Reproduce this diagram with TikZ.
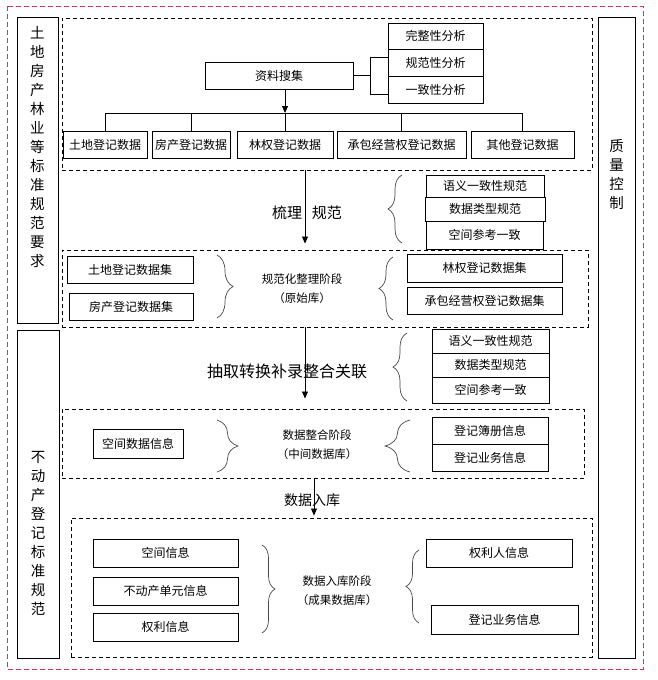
\documentclass[tikz,border=0pt]{standalone}
\usepackage{fontspec}
\setmainfont{Noto Sans CJK SC}
\usetikzlibrary{arrows.meta,decorations.pathreplacing}
\definecolor{rim}{HTML}{E03052}
\definecolor{braceg}{HTML}{484848}

\begin{document}
\begin{tikzpicture}[x=1pt,y=-1pt,
  box/.style={draw,line width=0.8pt,inner sep=0pt,font=\fontsize{12}{14}\selectfont},
  grp/.style={draw,line width=0.9pt,dash pattern=on 4pt off 3pt,inner sep=0pt},
  col/.style={draw,line width=0.8pt,inner sep=0pt},
  vtxt/.style={align=center,font=\fontsize{14.5}{19}\selectfont},
  stage/.style={align=center,font=\fontsize{11.5}{19}\selectfont},
  brc/.style={decorate,decoration={brace,amplitude=#1},line width=0.7pt,draw=braceg},
  tip/.style={-{Triangle[length=7pt,width=6pt]},line width=0.8pt}]
\useasboundingbox (0,0) rectangle (657,680);
\draw[rim,line width=0.9pt,dash pattern=on 5pt off 3pt] (7,6) rectangle (643,669);

% side columns
\node[col,minimum width=41pt,minimum height=306pt] (lc1) at (37.5,170) {};
\node[vtxt] (lt1) at (37.5,147) {土\\地\\房\\产\\林\\业\\等\\标\\准\\规\\范\\要\\求};
\node[col,minimum width=42pt,minimum height=328pt] (lc2) at (38,494) {};
\node[vtxt] (lt2) at (38,533) {不\\动\\产\\登\\记\\标\\准\\规\\范};
\node[col,minimum width=37pt,minimum height=641pt] (qc) at (616.5,337.5) {};
\node[vtxt] (qt) at (616.5,175) {质\\量\\控\\制};

% stages
\node[grp,minimum width=530pt,minimum height=152pt] (g1) at (327,94) {};
\node[grp,minimum width=526pt,minimum height=77pt] (g2) at (325,288.5) {};
\node[grp,minimum width=522pt,minimum height=69pt] (g3) at (323,443.5) {};
\node[grp,minimum width=521pt,minimum height=139pt] (g4) at (331.5,587.5) {};

% collection
\node[box,minimum width=148pt,minimum height=27pt] (zl) at (279,75.5) {资料搜集};
\node[box,minimum width=95pt,minimum height=26.7pt] (a1) at (435.5,36.3) {完整性分析};
\node[box,minimum width=95pt,minimum height=26.7pt] (a2) at (435.5,63) {规范性分析};
\node[box,minimum width=95pt,minimum height=26.7pt] (a3) at (435.5,89.7) {一致性分析};
\draw[line width=0.8pt] (zl.east) -- ++(17,0) coordinate (fk);
\draw[line width=0.8pt] ([yshift=6pt]a2.west) -| (fk) |- ([yshift=-5pt]a3.west);
\node[box,minimum width=84pt,minimum height=27pt] (d1) at (105,144.5) {土地登记数据};
\node[box,minimum width=78pt,minimum height=27pt] (d2) at (191,144.5) {房产登记数据};
\node[box,minimum width=96pt,minimum height=27pt] (d3) at (285,144.5) {林权登记数据};
\node[box,minimum width=129pt,minimum height=27pt] (d4) at (401.5,144.5) {承包经营权登记数据};
\node[box,minimum width=103pt,minimum height=27pt] (d5) at (522.5,144.5) {其他登记数据};
\coordinate (bus) at (0,113);
\draw[tip] (zl.south -| d3) -- (bus -| d3);
\draw[line width=0.8pt] (bus -| d1) -- (bus -| d5);
\foreach \d in {d1,d2,d3,d4,d5} \draw[line width=0.8pt] (bus -| \d) -- (\d.north);

% rules 1
\node[box,minimum width=118pt,minimum height=22pt] (r1) at (485,186) {语义一致性规范};
\node[box,minimum width=120pt,minimum height=24pt] (r2) at (485,209) {数据类型规范};
\node[box,minimum width=117pt,minimum height=28pt] (r3) at (484.5,235) {空间参考一致};
\draw[brc=14pt] (402,243) -- (402,175);

% raw stage
\node[box,minimum width=126pt,minimum height=27pt] (s1) at (130,269.5) {土地登记数据集};
\node[box,minimum width=124pt,minimum height=27pt] (s2) at (131,306.5) {房产登记数据集};
\node[box,minimum width=155pt,minimum height=28pt] (s3) at (484.5,268) {林权登记数据集};
\node[box,minimum width=155pt,minimum height=27pt] (s4) at (484.5,300.5) {承包经营权登记数据集};
\node[stage] (p1) at (302,288.5) {规范化整理阶段\\（原始库）};
\draw[brc=16pt] (217,255) -- (217,318);
\draw[brc=14pt] (393,320) -- (393,257);

% rules 2
\node[box,minimum width=117pt,minimum height=24pt] (t1) at (490.5,341) {语义一致性规范};
\node[box,minimum width=117pt,minimum height=24pt] (t2) at (490.5,365) {数据类型规范};
\node[box,minimum width=117pt,minimum height=26pt] (t3) at (490.5,390) {空间参考一致};
\draw[brc=14pt] (407,401) -- (407,333);

% middle stage
\node[box,minimum width=90pt,minimum height=29pt] (u1) at (138,443.5) {空间数据信息};
\node[box,minimum width=116pt,minimum height=27pt] (u2) at (490,430.5) {登记簿册信息};
\node[box,minimum width=116pt,minimum height=27pt] (u3) at (490,457.5) {登记业务信息};
\node[stage] (p2) at (317,444.5) {数据整合阶段\\（中间数据库）};
\draw[brc=21pt] (217,420) -- (217,472);
\draw[brc=25pt] (410,472) -- (410,420);

% result stage
\node[box,minimum width=145pt,minimum height=28pt] (v1) at (165.5,553) {空间信息};
\node[box,minimum width=145pt,minimum height=28pt] (v2) at (165.5,591) {不动产单元信息};
\node[box,minimum width=145pt,minimum height=28pt] (v3) at (165.5,627) {权利信息};
\node[box,minimum width=146pt,minimum height=28pt] (v4) at (499,553) {权利人信息};
\node[box,minimum width=147pt,minimum height=29pt] (v5) at (504.5,619.5) {登记业务信息};
\node[stage] (p3) at (337,591) {数据入库阶段\\（成果数据库）};
\draw[brc=13pt] (262,545) -- (262,633);
\draw[brc=13pt] (419,623) -- (419,550);

% flow between stages
\node[font=\fontsize{15}{15}\selectfont] (f1) at (307,213) {梳理\hspace{10pt}规范};
\node[font=\fontsize{16}{16}\selectfont] (f2) at (287,371) {抽取转换补录整合关联};
\node[font=\fontsize{14}{14}\selectfont] (f3) at (312,500) {数据入库};
\coordinate (ax1) at (305,0);
\coordinate (ax2) at (314,0);
\draw[tip,shorten >=6pt] (g1.south -| ax1) -- (g2.north -| ax1);
\draw[tip,shorten >=10pt] (g2.south -| ax1) -- (g3.north -| ax1);
\draw[tip,shorten >=2pt] (g3.south -| ax2) -- (g4.north -| ax2);
\end{tikzpicture}
\end{document}
